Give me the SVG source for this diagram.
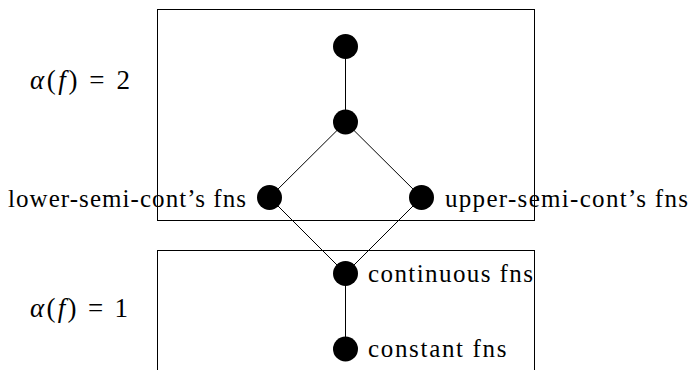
<svg xmlns="http://www.w3.org/2000/svg" width="692" height="370" viewBox="0 0 692 370">
<style>
.box{fill:none;stroke:#000;stroke-width:1}
.edge{stroke:#000;stroke-width:1}
.node{fill:#000}
.lbl{font-family:"Liberation Serif","Times New Roman",serif;font-size:25px;fill:#000}
.math{font-family:"Liberation Serif","Times New Roman",serif;font-size:27px;fill:#000}
.it{font-style:italic}
</style>
<rect width="692" height="370" fill="#fff"/>
<g id="box-alpha2"><rect class="box" x="157.5" y="9.5" width="377" height="211"/></g>
<g id="box-alpha1"><rect class="box" x="157.5" y="250.5" width="377" height="140"/></g>
<g id="labels">
<text class="math" x="30" y="89" textLength="100" lengthAdjust="spacing"><tspan class="it">α</tspan>(<tspan class="it">f</tspan>) = 2</text>
<text class="math" x="30" y="317" textLength="98" lengthAdjust="spacing"><tspan class="it">α</tspan>(<tspan class="it">f</tspan>) = 1</text>
</g>
<g id="connectors">
<line class="edge" x1="345.5" y1="46.5" x2="345.5" y2="122"/>
<line class="edge" x1="345.5" y1="122" x2="269.5" y2="197.5"/>
<line class="edge" x1="345.5" y1="122" x2="421.5" y2="197.5"/>
<line class="edge" x1="269.5" y1="197.5" x2="345.5" y2="273.5"/>
<line class="edge" x1="421.5" y1="197.5" x2="345.5" y2="273.5"/>
<line class="edge" x1="345.5" y1="273.5" x2="345.5" y2="349"/>
</g>
<g id="node-top"><circle class="node" cx="345.5" cy="46.5" r="12.5"/></g>
<g id="node-mid"><circle class="node" cx="345.5" cy="122" r="12.5"/></g>
<g id="node-lower"><circle class="node" cx="269.5" cy="197.5" r="12.5"/><text class="lbl" x="8" y="206.5" textLength="238" lengthAdjust="spacing">lower-semi-cont’s fns</text></g>
<g id="node-upper"><circle class="node" cx="421.5" cy="197.5" r="12.5"/><text class="lbl" x="445" y="206.5" textLength="243" lengthAdjust="spacing">upper-semi-cont’s fns</text></g>
<g id="node-continuous"><circle class="node" cx="345.5" cy="273.5" r="12.5"/><text class="lbl" x="368" y="281.7" textLength="165" lengthAdjust="spacing">continuous fns</text></g>
<g id="node-constant"><circle class="node" cx="345.5" cy="349" r="12.5"/><text class="lbl" x="368" y="356.7" textLength="138.5" lengthAdjust="spacing">constant fns</text></g>
</svg>
